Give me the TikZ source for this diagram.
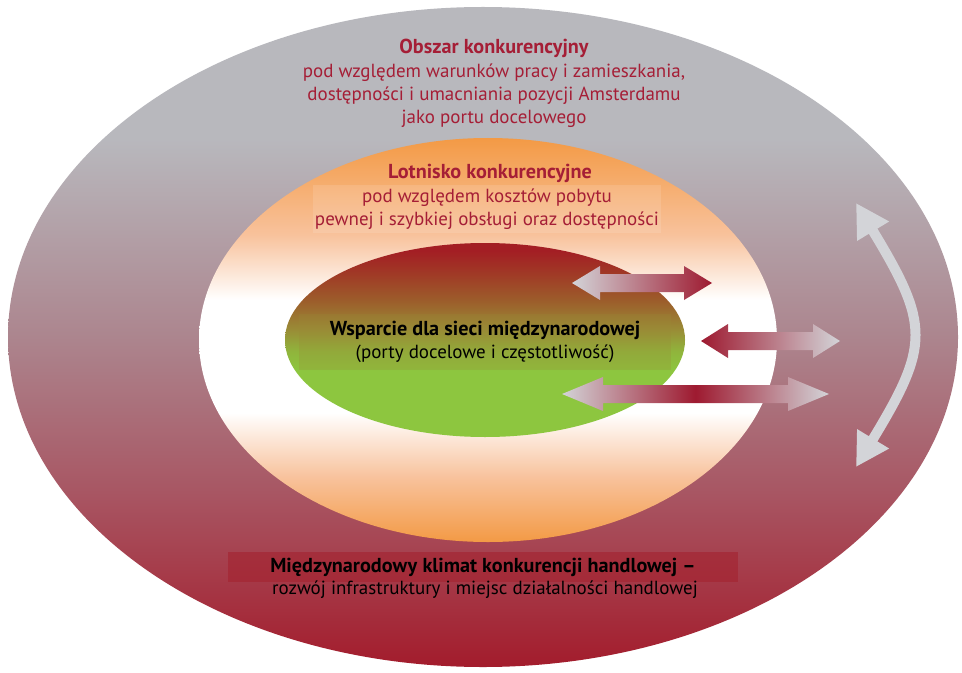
\documentclass[tikz,border=0pt]{standalone}
\usepackage{fontspec}
\setmainfont{PT Sans}
\usetikzlibrary{arrows.meta}
\definecolor{rimgray}{HTML}{B8B8BD}
\definecolor{rimmauve}{HTML}{AC858E}
\definecolor{rimrose}{HTML}{A85562}
\definecolor{rimred}{HTML}{A31C2C}
\definecolor{portorange}{HTML}{F39A45}
\definecolor{portpeach}{HTML}{F8C29C}
\definecolor{corered}{HTML}{A31E24}
\definecolor{corerust}{HTML}{A03A26}
\definecolor{corebrown}{HTML}{9C5E2B}
\definecolor{coreolive}{HTML}{9A8A36}
\definecolor{corelime}{HTML}{90B53C}
\definecolor{coregreen}{HTML}{8DC63F}
\definecolor{arrowgray}{HTML}{D3D4D8}
\definecolor{arrowred}{HTML}{9E1A30}
\definecolor{labelred}{HTML}{A51E36}
\definecolor{handelred}{HTML}{A3222F}
\colorlet{arrowmix}{arrowgray!50!arrowred}
\pgfdeclareverticalshading{rimshade}{100bp}{color(0bp)=(rimred); color(25bp)=(rimred); color(38bp)=(rimrose); color(50bp)=(rimmauve); color(65bp)=(rimgray); color(100bp)=(rimgray)}
\pgfdeclareverticalshading{portshade}{100bp}{color(0bp)=(portorange); color(25bp)=(portorange); color(33bp)=(portpeach); color(41bp)=(white); color(55bp)=(white); color(63bp)=(portpeach); color(75bp)=(portorange); color(100bp)=(portorange)}
\pgfdeclareverticalshading{coreshade}{100bp}{color(0bp)=(coregreen); color(25bp)=(coregreen); color(42bp)=(coregreen); color(47bp)=(corelime); color(53bp)=(coreolive); color(60bp)=(corebrown); color(67bp)=(corerust); color(73bp)=(corered); color(100bp)=(corered)}

\begin{document}
\begin{tikzpicture}
  [x=0.02cm,y=-0.02cm,
   every node/.style={font=\fontsize{10.8}{13}\selectfont,align=center,inner sep=0pt},
   zonehead/.style={font=\fontsize{11.5}{13}\selectfont\bfseries,text=labelred},
   zonetext/.style={text=labelred},
   blackhead/.style={font=\fontsize{11.5}{13}\selectfont\bfseries,text=black}]
  \fill[white] (0,0) rectangle (962,672);
  \useasboundingbox (0,0) rectangle (962,672);
  \shade[shading=rimshade] (483,337) ellipse [x radius=475, y radius=330];
  \shade[shading=portshade] (488,340) ellipse [x radius=289, y radius=202];
  \shade[shading=coreshade] (485,340) ellipse [x radius=200, y radius=97];

\foreach \xa/\xb/\yc/\hl/\ca/\cm/\cb in {572/712/283/28/arrowgray/arrowmix/arrowred,
    701/840/341/27/arrowred/arrowmix/arrowgray,
    562/829/394/41/arrowgray/arrowred/arrowgray}
    \shade[left color=\ca,right color=\cb,middle color=\cm]
      (\xa,\yc) -- (\xa+\hl,\yc-17) -- (\xa+\hl,\yc-9) -- (\xb-\hl,\yc-9)
      -- (\xb-\hl,\yc-17) -- (\xb,\yc) -- (\xb-\hl,\yc+17) -- (\xb-\hl,\yc+9)
      -- (\xa+\hl,\yc+9) -- (\xa+\hl,\yc+17) -- cycle;

  \coordinate (swing-top) at (856,203);
  \coordinate (swing-bot) at (856,467);
  \draw[arrowgray,line width=0.2cm,{Triangle[width=0.7cm,length=0.66cm]}-{Triangle[width=0.7cm,length=0.66cm]}]
    (swing-top) .. controls (930,325) and (930,345) .. (swing-bot);

  \node[zonehead] (obszar-head) at (494,48) {Obszar konkurencyjny};
  \node[zonetext] (obszar-body) at (494,96) {pod względem warunków pracy i zamieszkania,\\dostępności i umacniania pozycji Amsterdamu\\jako portu docelowego};
  \node[zonehead] (lotnisko-head) at (490,173) {Lotnisko konkurencyjne};
  \node[zonetext,fill=white,fill opacity=0.12,text opacity=1,minimum width=6.96cm,minimum height=0.98cm] (lotnisko-body) at (487,209) {pod względem kosztów pobytu\\pewnej i szybkiej obsługi oraz dostępności};
  \node[fill=coreolive,fill opacity=0.25,text opacity=1,minimum width=7.44cm,minimum height=1.12cm] (core) at (485,342) {{\fontsize{11.5}{13}\selectfont\bfseries Wsparcie dla sieci międzynarodowej}\\(porty docelowe i częstotliwość)};
  \node[blackhead,fill=handelred,fill opacity=0.6,text opacity=1,minimum width=10.2cm,minimum height=0.6cm] (handel-head) at (483,567) {Międzynarodowy klimat konkurencji handlowej –};
  \node (handel-body) at (485,590) {rozwój infrastruktury i miejsc działalności handlowej};
\end{tikzpicture}
\end{document}
